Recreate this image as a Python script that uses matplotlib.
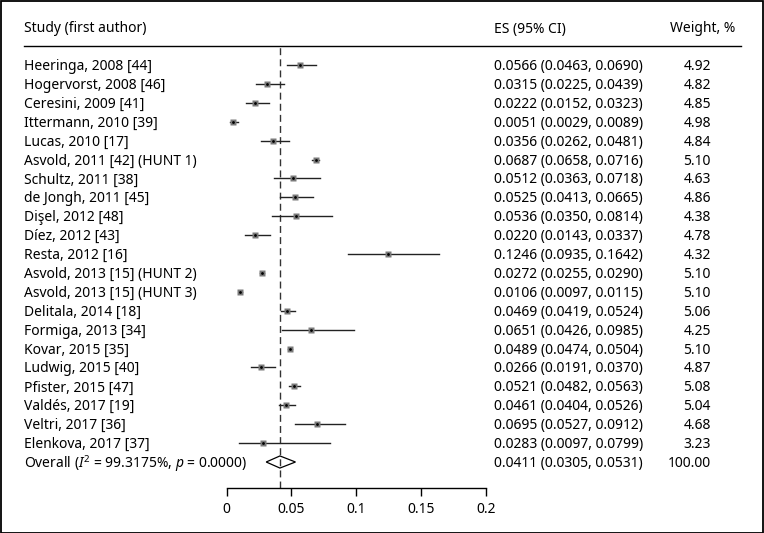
import matplotlib.pyplot as plt
import matplotlib.lines as mlines
import matplotlib.patches as mpatches
import numpy as np

plt.rcParams['font.family'] = ['Noto Sans', 'DejaVu Sans']
plt.rcParams['mathtext.fontset'] = 'custom'
plt.rcParams['mathtext.rm'] = 'Noto Sans'
plt.rcParams['mathtext.it'] = 'Noto Sans:italic'

studies = ["Heeringa, 2008 [44]", "Hogervorst, 2008 [46]", "Ceresini, 2009 [41]",
           "Ittermann, 2010 [39]", "Lucas, 2010 [17]", "Asvold, 2011 [42] (HUNT 1)",
           "Schultz, 2011 [38]", "de Jongh, 2011 [45]", "Dişel, 2012 [48]",
           "Díez, 2012 [43]", "Resta, 2012 [16]", "Asvold, 2013 [15] (HUNT 2)",
           "Asvold, 2013 [15] (HUNT 3)", "Delitala, 2014 [18]", "Formiga, 2013 [34]",
           "Kovar, 2015 [35]", "Ludwig, 2015 [40]", "Pfister, 2015 [47]",
           "Valdés, 2017 [19]", "Veltri, 2017 [36]", "Elenkova, 2017 [37]"]
es = [0.0566, 0.0315, 0.0222, 0.0051, 0.0356, 0.0687, 0.0512, 0.0525, 0.0536, 0.0220,
      0.1246, 0.0272, 0.0106, 0.0469, 0.0651, 0.0489, 0.0266, 0.0521, 0.0461, 0.0695, 0.0283]
lo = [0.0463, 0.0225, 0.0152, 0.0029, 0.0262, 0.0658, 0.0363, 0.0413, 0.0350, 0.0143,
      0.0935, 0.0255, 0.0097, 0.0419, 0.0426, 0.0474, 0.0191, 0.0482, 0.0404, 0.0527, 0.0097]
hi = [0.0690, 0.0439, 0.0323, 0.0089, 0.0481, 0.0716, 0.0718, 0.0665, 0.0814, 0.0337,
      0.1642, 0.0290, 0.0115, 0.0524, 0.0985, 0.0504, 0.0370, 0.0563, 0.0526, 0.0912, 0.0799]
weight = [4.92, 4.82, 4.85, 4.98, 4.84, 5.10, 4.63, 4.86, 4.38, 4.78, 4.32, 5.10, 5.10,
          5.06, 4.25, 5.10, 4.87, 5.08, 5.04, 4.68, 3.23]
overall_es, overall_lo, overall_hi = 0.0411, 0.0305, 0.0531
overall_label = r"Overall ($\mathit{I}^2$ = 99.3175%, $\mathit{p}$ = 0.0000)"
xticks = [0, 0.05, 0.1, 0.15, 0.2]

W, H = 764, 533
fig = plt.figure(figsize=(W / 100, H / 100), dpi=100)

# axes: x 0..0.2 spans px 226.7..485.7, y from header line (46) to axis (488)
ax = fig.add_axes([226.7 / W, (H - 488) / H, 259 / W, 442 / H])
n = len(studies)
rows = np.arange(n + 1)
step = (462 - 65) / n
ax.set_xlim(0, 0.2)
ax.set_ylim(n + (488 - 462) / step, -(65 - 46) / step)

fs = 10
# confidence intervals and boxes
for i in range(n):
    ax.plot([lo[i], hi[i]], [rows[i], rows[i]], color='#222222', lw=1.0, zorder=2)
    side = 6.8 * np.sqrt(weight[i] / 5.1)
    ax.plot(es[i], rows[i], marker='s', ms=side * 0.72, color='#7a7a7a', mec='none', zorder=3)
    ax.plot(es[i], rows[i], marker='o', ms=2.0, color='black', mec='none', zorder=4)

# overall diamond
dh = 0.32
ax.add_patch(mpatches.Polygon([[overall_lo, rows[n]], [overall_es, rows[n] - dh],
                               [overall_hi, rows[n]], [overall_es, rows[n] + dh]],
                              closed=True, fill=False, ec='black', lw=0.9, zorder=4))

# overall effect dashed line
ax.axvline(overall_es, color='#333333', lw=1.0, dashes=(5, 3), zorder=1)

for s in ['top', 'right', 'left']:
    ax.spines[s].set_visible(False)
ax.spines['bottom'].set_bounds(0, 0.2)
ax.spines['bottom'].set_linewidth(1.0)
ax.set_yticks([])
ax.set_xticks(xticks)
ax.set_xticklabels([f"{t:g}" for t in xticks], fontsize=fs)
ax.tick_params(axis='x', length=6, width=1.0, pad=4)

# text columns (pixel positions via figure coords)
def fy(px):
    return 1 - px / H

for i in range(n + 1):
    ypx = 66.5 + step * i
    if i < n:
        label, e, l, h, w = studies[i], es[i], lo[i], hi[i], f"{weight[i]:.2f}"
    else:
        label, e, l, h, w = overall_label, overall_es, overall_lo, overall_hi, "100.00"
    fig.text(24 / W, fy(ypx), label, fontsize=fs, va='center', ha='left')
    fig.text(494 / W, fy(ypx), f"{e:.4f} ({l:.4f}, {h:.4f})", fontsize=fs, va='center', ha='left')
    fig.text(711 / W, fy(ypx), w, fontsize=fs, va='center', ha='right')

# header
fig.text(24 / W, fy(29), "Study (first author)", fontsize=fs, va='center', ha='left')
fig.text(494 / W, fy(29), "ES (95% CI)", fontsize=fs, va='center', ha='left')
fig.text(735 / W, fy(29), "Weight, %", fontsize=fs, va='center', ha='right')
fig.add_artist(mlines.Line2D([24 / W, 741 / W], [fy(46), fy(46)], color='black', lw=1.0))

# outer frame
fig.add_artist(mpatches.Rectangle((0.5 / W, 0.5 / H), 1 - 1.5 / W, 1 - 1.5 / H,
                                  fill=False, ec='black', lw=1.3, transform=fig.transFigure))

fig.savefig("out.png", dpi=100)
